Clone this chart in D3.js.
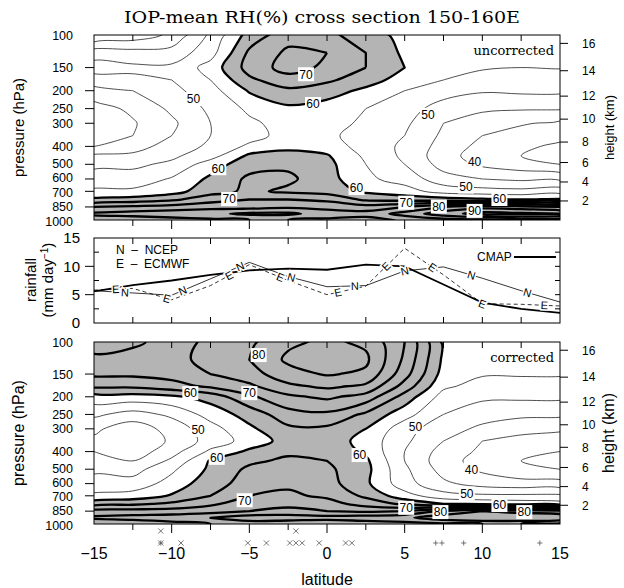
<!DOCTYPE html>
<html>
<head>
<meta charset="utf-8">
<script src="https://cdn.jsdelivr.net/npm/d3@7"></script>
<style>
  body { margin: 0; background: #fff; }
  svg { display: block; font-family: "Liberation Sans", Arial, sans-serif; }
</style>
</head>
<body>
<div id="chart"></div>
<script>
// grid of the cross sections
var lats = [-15, -12.5, -10, -7.5, -5, -2.5, 0, 2.5, 5, 7.5, 10, 12.5, 15];
var levels = [100, 125, 150, 175, 200, 250, 300, 350, 400, 450, 500, 600, 700, 775, 850, 925, 1000];

// RH (%) rows = levels, columns = lats
var rhUncorrected = [
  [35, 37, 41, 51, 62, 68, 66, 63, 58, 57, 57, 58, 58],
  [48, 47, 47, 53, 66, 71, 70, 65, 59, 57, 56, 57, 57],
  [52, 51, 51, 57, 67, 72, 69, 65, 60, 57, 55.5, 55, 55.3],
  [48, 49, 50, 55, 64, 68, 66, 62, 58, 55, 53, 52.5, 52.5],
  [43, 45, 48.5, 53, 60.5, 64, 62, 59, 55, 52, 50.5, 51, 51],
  [38, 41, 46, 51, 56, 59, 58, 55, 52, 48, 46, 45.5, 45.5],
  [36, 39.5, 44, 50, 54, 57, 57, 54, 51, 45, 42, 40.5, 39],
  [37, 40, 45, 50, 53, 57, 56, 53, 50, 44, 40, 38, 36.5],
  [40, 43, 47, 51, 56, 58.5, 57.5, 53, 49, 43, 38.5, 36, 34],
  [46, 46, 49, 53, 61, 62, 60.5, 54, 49, 42, 37.5, 35, 33],
  [49, 49, 51, 57.5, 63, 64, 61.5, 55, 50, 43, 39, 37, 35],
  [52, 52, 55.5, 61, 66, 66, 62, 56, 53, 47, 45, 44, 44],
  [56, 56, 58, 63, 66, 64, 63, 59, 57, 53, 52, 51.5, 53],
  [61, 62, 64, 68, 70, 70, 69, 64, 63, 62, 61, 60, 60.5],
  [70, 71, 72, 73, 73, 74, 73, 72, 75, 80, 83, 82, 80],
  [76, 77, 78, 79, 81, 81, 78, 77, 82, 88, 92, 91, 90],
  [72, 72, 73, 74, 75, 75, 74, 73, 76, 78, 79, 78, 77]
];

var rhCorrected = [
  [77, 76, 73, 76, 79, 84, 86, 84, 75, 59, 57, 58, 58],
  [74, 73, 74, 76, 80, 86, 88, 86, 74, 59, 56, 57, 57],
  [71, 71, 72, 75, 78, 83, 85.5, 84, 72, 58, 55.5, 55.5, 55.5],
  [66, 66, 68, 71, 74, 79, 81, 79, 68, 56, 53, 53, 53],
  [58, 58, 59, 62, 69, 74, 76, 73, 63, 53, 51, 51, 51],
  [51, 48, 51, 57, 62, 68, 69, 64, 57, 50, 47, 46, 46],
  [46, 42, 47, 53, 59, 64, 64, 60, 52, 47, 44, 42, 41],
  [44, 40, 46, 52, 57, 62, 63, 58, 51, 45, 40, 38, 37],
  [45, 42, 48, 56, 61, 64, 64, 59, 50, 43, 39, 36, 35],
  [47, 45, 51, 60.5, 64, 66, 65, 61, 50, 42, 38, 35, 34],
  [49, 48, 54, 61, 66, 67, 66, 61.5, 51, 43, 39, 36, 35],
  [52, 52, 57, 63, 67, 69, 67, 61, 52, 46, 43, 42, 42],
  [56, 57, 60.5, 65, 70, 71, 69, 64, 57, 52, 51, 51, 51],
  [63, 64, 66, 69, 73, 74, 72, 68, 64, 60, 59, 58, 57],
  [72, 72, 72, 73, 75, 76, 75, 74, 75, 81, 85, 83, 82],
  [76, 77, 78, 80, 83, 83, 82, 83, 84, 88, 90, 90, 89],
  [70, 71, 73, 75, 77, 76, 76, 77, 78, 79, 80, 80, 79]
];

var thinLevels = [35, 40, 45, 50, 55];
var thickLevels = [60, 65, 70, 75, 80, 85, 90];

// contour labels: [text, lat, pressure]
var labelsUncorrected = [
  ["70", -1.35, 163], ["60", -0.9, 236], ["50", -8.6, 222], ["50", 6.5, 270],
  ["40", 9.5, 485], ["60", -7.0, 525], ["60", 1.9, 672], ["50", 8.95, 660],
  ["60", 11.1, 770], ["70", -6.3, 770], ["70", 5.1, 806], ["80", 7.2, 845], ["90", 9.5, 893]
];
var labelsCorrected = [
  ["80", -4.4, 118], ["70", -5.0, 191], ["60", -8.8, 191], ["50", -8.3, 304],
  ["60", -7.1, 433], ["60", 2.1, 418], ["50", 5.7, 293], ["40", 9.3, 500],
  ["50", 9.0, 680], ["60", 11.1, 787], ["70", -5.3, 740], ["70", 5.1, 815],
  ["80", 7.3, 860], ["80", 12.7, 860]
];

var pressureTicks = [100, 150, 200, 250, 300, 400, 500, 600, 700, 850, 1000];
var heightKm = [2, 4, 6, 8, 10, 12, 14, 16];
var heightP = [789, 623, 489, 379, 285, 214, 156, 111];
var latTicks = [-15, -10, -5, 0, 5, 10, 15];

// rainfall (mm/day) at lats
var cmap  = [5.6, 6.7, 7.5, 8.5, 9.3, 9.6, 9.4, 10.3, 10.0, 6.8, 3.6, 2.5, 1.8];
var ncep  = [5.7, 5.3, 4.9, 7.8, 10.7, 8.2, 6.4, 6.6, 9.2, 9.9, 7.9, 5.7, 3.7];
var ecmwf = [5.8, 6.1, 4.1, 6.6, 10.3, 7.5, 5.0, 6.5, 13.2, 8.5, 3.4, 3.3, 3.0];
var nMarks = [-13.0, -9.3, -5.6, -2.3, 1.8, 5.0, 9.3, 12.9];
var eMarks = [-13.6, -10.3, -6.3, -3.0, 0.7, 3.8, 6.8, 10.0, 14.0];

// sounding sites under the bottom panel
var sitesRow1 = [-10.7, -2.0];
var sitesRow2 = [-10.7, -9.4, -5.1, -3.9, -2.4, -2.0, -1.6, -0.5, 1.2, 1.6];
var sitesPlus = [-10.7, 7.0, 7.4, 8.8, 13.7];

var W = 624, H = 588;
var svg = d3.select("#chart").append("svg").attr("width", W).attr("height", H);

var x = d3.scaleLinear().domain([-15, 15]).range([94, 560]);
var yTop = d3.scaleLog().domain([100, 1000]).range([35, 220]);
var yRain = d3.scaleLinear().domain([0, 15]).range([323, 238]);
var yBot = d3.scaleLog().domain([100, 1000]).range([342, 524]);

svg.append("text")
  .attr("x", 322).attr("y", 23)
  .attr("text-anchor", "middle")
  .style("font-family", "'DejaVu Serif', serif")
  .style("font-size", "16px")
  .attr("textLength", 396).attr("lengthAdjust", "spacingAndGlyphs")
  .text("IOP-mean RH(%) cross section 150-160E");

var ringLine = d3.line().curve(d3.curveCatmullRomClosed.alpha(0.5));
// small nudges so the crowded pressure labels do not collide
var labelNudge = {500: -1, 600: -1, 700: 0.8, 850: -0.5, 1000: 1.2};

function drawSection(grid, y, labels, name, id, fs) {
  var nx = lats.length, ny = levels.length;
  var values = [].concat.apply([], grid);
  var gi = d3.scaleLinear().domain(d3.range(nx)).range(lats);
  var gj = d3.scaleLinear().domain(d3.range(ny)).range(levels.map(Math.log));
  function px(c) { return x(gi(c - 0.5)); }
  function py(c) { return y(Math.exp(gj(c - 0.5))); }
  function pathOf(mp) {
    var s = "";
    mp.coordinates.forEach(function (poly) {
      poly.forEach(function (ring) {
        var pts = ring.slice(0, -1).map(function (p) { return [px(p[0]), py(p[1])]; });
        s += ringLine(pts);
      });
    });
    return s;
  }
  var y0 = y.range()[0], y1 = y.range()[1];
  svg.append("clipPath").attr("id", id)
    .append("rect").attr("x", x(-15)).attr("y", y0)
    .attr("width", x(15) - x(-15)).attr("height", y1 - y0);
  var g = svg.append("g").attr("clip-path", "url(#" + id + ")");

  var gen = d3.contours().size([nx, ny]);
  var fill = gen.thresholds([60])(values)[0];
  g.append("path").attr("d", pathOf(fill)).attr("fill", "#b4b4b4").attr("stroke", "none");

  gen.thresholds(thinLevels)(values).forEach(function (c) {
    g.append("path").attr("d", pathOf(c)).attr("fill", "none")
      .attr("stroke", "#222").attr("stroke-width", 0.8);
  });
  gen.thresholds(thickLevels)(values).forEach(function (c) {
    g.append("path").attr("d", pathOf(c)).attr("fill", "none")
      .attr("stroke", "#000").attr("stroke-width", 2.3).attr("stroke-linejoin", "round");
  });

  var lab = g.selectAll(".lab").data(labels).enter().append("g")
    .attr("transform", function (d) { return "translate(" + x(d[1]) + "," + y(d[2]) + ")"; });
  lab.append("rect").attr("x", -8).attr("y", -7).attr("width", 16).attr("height", 14).attr("fill", "#fff");
  lab.append("text").attr("text-anchor", "middle").attr("dy", "0.36em")
    .style("font-size", "12px").text(function (d) { return d[0]; });

  // frame
  svg.append("rect").attr("x", x(-15)).attr("y", y0)
    .attr("width", x(15) - x(-15)).attr("height", y1 - y0)
    .attr("fill", "none").attr("stroke", "#000").attr("stroke-width", 1);

  // pressure axis
  svg.append("g").selectAll("line").data(pressureTicks.slice(1, -1)).enter().append("line")
    .attr("x1", 85).attr("x2", 94).attr("y1", function (d) { return y(d); }).attr("y2", function (d) { return y(d); })
    .attr("stroke", "#000");
  svg.append("g").selectAll("text").data(pressureTicks).enter().append("text")
    .attr("x", 73).attr("y", function (d) { return y(d) + (labelNudge[d] || 0); }).attr("dy", "0.36em")
    .attr("text-anchor", "end").style("font-size", "12.5px").text(function (d) { return d; });
  // height axis
  svg.append("g").selectAll("line").data(heightP).enter().append("line")
    .attr("x1", 560).attr("x2", 568).attr("y1", function (d) { return y(d); }).attr("y2", function (d) { return y(d); })
    .attr("stroke", "#000");
  svg.append("g").selectAll("text").data(heightKm).enter().append("text")
    .attr("x", 582).attr("y", function (d, i) { return y(heightP[i]); }).attr("dy", "0.36em")
    .style("font-size", "12px").text(function (d) { return d; });
  // lat ticks inside at top
  svg.append("g").selectAll("line").data(d3.range(-12.5, 15, 2.5)).enter().append("line")
    .attr("x1", function (d) { return x(d); }).attr("x2", function (d) { return x(d); })
    .attr("y1", y0).attr("y2", y0 + 6).attr("stroke", "#000");
  // lat ticks outside at bottom
  svg.append("g").selectAll("line").data(d3.range(-12.5, 15, 2.5)).enter().append("line")
    .attr("x1", function (d) { return x(d); }).attr("x2", function (d) { return x(d); })
    .attr("y1", y1).attr("y2", function (d) { return y1 + (d % 5 === 0 ? 9 : 6); }).attr("stroke", "#000");

  var cy = (y0 + y1) / 2;
  svg.append("text").attr("transform", "translate(24," + cy + ") rotate(-90)")
    .attr("text-anchor", "middle").style("font-size", fs[0] + "px").text("pressure (hPa)");
  svg.append("text").attr("transform", "translate(614," + cy + ") rotate(-90)")
    .attr("text-anchor", "middle").style("font-size", fs[1] + "px").text("height (km)");
  svg.append("text").attr("x", 554).attr("y", y0 + 20).attr("text-anchor", "end")
    .style("font-family", "'DejaVu Serif', serif").style("font-size", "13px").text(name);
}

drawSection(rhUncorrected, yTop, labelsUncorrected, "uncorrected", "clipTop", [15, 13]);
drawSection(rhCorrected, yBot, labelsCorrected, "corrected", "clipBot", [16, 16]);

// rainfall panel
var rain = svg.append("g");
rain.append("rect").attr("x", x(-15)).attr("y", yRain(15))
  .attr("width", x(15) - x(-15)).attr("height", yRain(0) - yRain(15))
  .attr("fill", "none").attr("stroke", "#000");
var lineGen = d3.line().x(function (d, i) { return x(lats[i]); }).y(function (d) { return yRain(d); });
rain.append("path").datum(ecmwf).attr("d", lineGen).attr("fill", "none")
  .attr("stroke", "#000").attr("stroke-width", 0.8).attr("stroke-dasharray", "4,3");
rain.append("path").datum(ncep).attr("d", lineGen).attr("fill", "none")
  .attr("stroke", "#000").attr("stroke-width", 0.8);
rain.append("path").datum(cmap).attr("d", lineGen).attr("fill", "none")
  .attr("stroke", "#000").attr("stroke-width", 1.8);

function markSeries(series, marks, letter) {
  var f = d3.scaleLinear().domain(lats).range(series);
  marks.forEach(function (m) {
    var xa = x(m - 0.3), xb = x(m + 0.3);
    var ya = yRain(f(m - 0.3)), yb = yRain(f(m + 0.3));
    var ang = Math.atan2(yb - ya, xb - xa) * 180 / Math.PI;
    rain.append("text")
      .attr("transform", "translate(" + x(m) + "," + yRain(f(m)) + ") rotate(" + ang + ")")
      .attr("text-anchor", "middle").attr("dy", "0.36em")
      .style("font-size", "11px")
      .attr("stroke", "#fff").attr("stroke-width", 3).attr("paint-order", "stroke")
      .text(letter);
  });
}
markSeries(ncep, nMarks, "N");
markSeries(ecmwf, eMarks, "E");

// rain axes
rain.selectAll(".yl").data([0, 5, 10, 15]).enter().append("text")
  .attr("x", 80).attr("y", function (d) { return yRain(d); }).attr("dy", "0.36em")
  .attr("text-anchor", "end").style("font-size", "15px").text(function (d) { return d; });
rain.selectAll(".ymaj").data([5, 10]).enter().append("line")
  .attr("x1", 85).attr("x2", 94).attr("y1", function (d) { return yRain(d); }).attr("y2", function (d) { return yRain(d); })
  .attr("stroke", "#000");
rain.selectAll(".ymin").data([2.5, 7.5, 12.5]).enter().append("line")
  .attr("x1", 94).attr("x2", 99).attr("y1", function (d) { return yRain(d); }).attr("y2", function (d) { return yRain(d); })
  .attr("stroke", "#000");
rain.selectAll(".yr").data([2.5, 5, 7.5, 10, 12.5]).enter().append("line")
  .attr("x1", 555).attr("x2", 560).attr("y1", function (d) { return yRain(d); }).attr("y2", function (d) { return yRain(d); })
  .attr("stroke", "#000");
rain.selectAll(".xt").data(d3.range(-12.5, 15, 2.5)).enter().append("line")
  .attr("x1", function (d) { return x(d); }).attr("x2", function (d) { return x(d); })
  .attr("y1", yRain(15)).attr("y2", yRain(15) + 6).attr("stroke", "#000");
rain.selectAll(".xb").data(d3.range(-12.5, 15, 2.5)).enter().append("line")
  .attr("x1", function (d) { return x(d); }).attr("x2", function (d) { return x(d); })
  .attr("y1", yRain(0)).attr("y2", yRain(0) - 6).attr("stroke", "#000");
rain.append("text").attr("transform", "translate(36,280) rotate(-90)")
  .attr("text-anchor", "middle").style("font-size", "15px").text("rainfall");
var rl = rain.append("text").attr("transform", "translate(53,280) rotate(-90)")
  .attr("text-anchor", "middle").style("font-size", "15px");
rl.append("tspan").text("(mm day");
rl.append("tspan").attr("dy", -5).style("font-size", "10px").text("−1");
rl.append("tspan").attr("dy", 5).text(")");

// legend
rain.append("text").attr("x", 116).attr("y", 254).style("font-size", "12px")
  .attr("xml:space", "preserve").text("N  –  NCEP");
rain.append("text").attr("x", 116).attr("y", 268).style("font-size", "12px")
  .attr("xml:space", "preserve").text("E  –  ECMWF");
rain.append("text").attr("x", 477).attr("y", 261).style("font-size", "12px").text("CMAP");
rain.append("line").attr("x1", 514).attr("x2", 556).attr("y1", 257).attr("y2", 257)
  .attr("stroke", "#000").attr("stroke-width", 1.8);

// latitude labels
svg.append("g").selectAll("text").data(latTicks).enter().append("text")
  .attr("x", function (d) { return x(d); }).attr("y", 559)
  .attr("text-anchor", "middle").style("font-size", "16px")
  .text(function (d) { return d < 0 ? "−" + Math.abs(d) : d; });
svg.append("text").attr("x", 327).attr("y", 585).attr("text-anchor", "middle")
  .style("font-size", "16px").text("latitude");

// sites drawn as small crosses / pluses
function sites(list, yy, plus) {
  var s = 2.6;
  svg.append("g").selectAll("path").data(list).enter().append("path")
    .attr("d", function (d) {
      var cx = x(d);
      return plus
        ? "M" + (cx - s) + "," + yy + "H" + (cx + s) + "M" + cx + "," + (yy - s) + "V" + (yy + s)
        : "M" + (cx - s) + "," + (yy - s) + "L" + (cx + s) + "," + (yy + s) +
          "M" + (cx - s) + "," + (yy + s) + "L" + (cx + s) + "," + (yy - s);
    })
    .attr("stroke", "#555").attr("stroke-width", 0.8).attr("fill", "none");
}
sites(sitesRow1, 531, false);
sites(sitesRow2, 543, false);
sites(sitesPlus, 543, true);
</script>
</body>
</html>
